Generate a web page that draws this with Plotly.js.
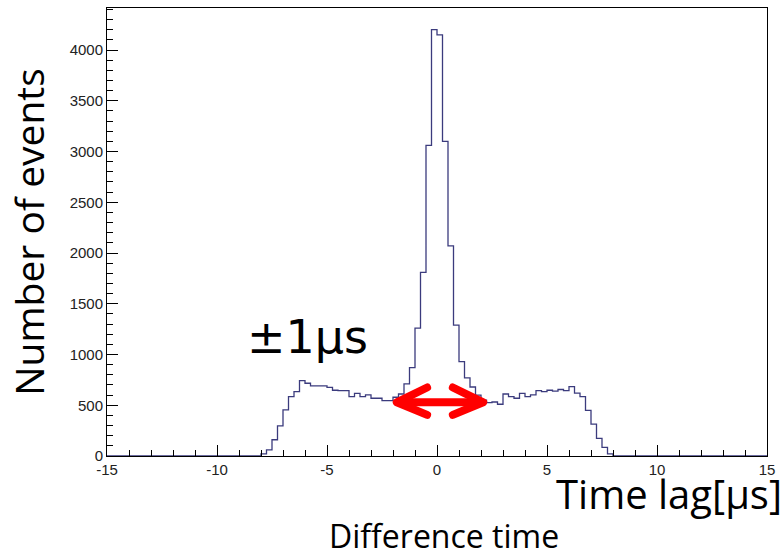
<!DOCTYPE html>
<html><head><meta charset="utf-8">
<script src="https://cdn.plot.ly/plotly-3.0.1.min.js"></script>
<style>body{margin:0;background:#fff}#c{width:782px;height:551px}</style>
</head><body><div id="c"></div>
<script>
// Histogram: 120 bins of 0.25 from -15 to 15
const binStart = -15;
const binWidth = 0.25;
const leadingZeros = 28;   // bins from -15 to -8
const trailingZeros = 28;  // bins from 8 to 15
const countsNeg = [20, 60, 160, 296, 454, 585, 634, 743, 717, 690, 690, 690, 677, 648, 644, 644,
                   585, 618, 585, 602, 569, 569, 545, 545, 579, 611, 710, 870, 1260, 1810, 3060, 4200];
const countsPos = [4150, 3100, 2070, 1290, 930, 770, 680, 600, 550, 526, 532, 510, 611, 585, 569, 618,
                   585, 602, 644, 635, 648, 640, 655, 644, 684, 620, 585, 450, 315, 174, 85, 20];
const xTickVals = [-15, -10, -5, 0, 5, 10, 15];
const yTickVals = [0, 500, 1000, 1500, 2000, 2500, 3000, 3500, 4000];

const counts = [].concat(new Array(leadingZeros).fill(0), countsNeg, countsPos, new Array(trailingZeros).fill(0));
const edges = counts.map((_, i) => binStart + i * binWidth);
edges.push(binStart + counts.length * binWidth);
const ys = counts.concat([counts[counts.length - 1]]);

const trace = {
  type: 'scatter', mode: 'lines', x: edges, y: ys,
  line: {shape: 'hv', color: '#3b3b7d', width: 1.3},
  hoverinfo: 'skip'
};

const red = '#ff0000';
const tickFont = {family: 'Liberation Sans, Arial, sans-serif', size: 15, color: '#222'};
const layout = {
  width: 782, height: 551,
  margin: {l: 107, r: 15, t: 8, b: 95},
  paper_bgcolor: '#fff', plot_bgcolor: '#fff',
  showlegend: false,
  xaxis: {
    range: [-15, 15], tickvals: xTickVals, ticktext: xTickVals.map(String),
    ticks: 'inside', ticklen: 11, tickcolor: '#000', tickwidth: 1,
    minor: {dtick: 1, ticks: 'inside', ticklen: 6, tickcolor: '#000'},
    showline: true, linecolor: '#000', linewidth: 1, mirror: true,
    showgrid: false, zeroline: false, tickfont: tickFont
  },
  yaxis: {
    range: [0, 4414], tickvals: yTickVals, ticktext: yTickVals.map(String),
    ticks: 'inside', ticklen: 11, tickcolor: '#000', tickwidth: 1,
    minor: {dtick: 100, ticks: 'inside', ticklen: 6, tickcolor: '#000'},
    showline: true, linecolor: '#000', linewidth: 1, mirror: true,
    showgrid: false, zeroline: false, tickfont: tickFont
  },
  shapes: [
    {type: 'line', xref: 'x', yref: 'y', x0: -1.75, y0: 529, x1: 2.0, y1: 529, line: {color: red, width: 8}},
    {type: 'path', xref: 'x', yref: 'y', path: 'M -0.45,675 L -1.83,529 L -0.45,405', line: {color: red, width: 8}},
    {type: 'path', xref: 'x', yref: 'y', path: 'M 0.72,675 L 2.1,529 L 0.72,405', line: {color: red, width: 8}}
  ],
  annotations: [
    {text: 'Number of events', xref: 'paper', yref: 'paper', x: -0.12, y: 0.5, xanchor: 'center', yanchor: 'middle',
     textangle: -90, showarrow: false, font: {family: 'Open Sans, sans-serif', size: 39, color: '#000'}},
    {text: 'Time lag[μs]', xref: 'paper', yref: 'paper', x: 1.026, y: -0.017, xanchor: 'right', yanchor: 'top',
     showarrow: false, font: {family: 'Open Sans, sans-serif', size: 40, color: '#000'}},
    {text: 'Difference time', xref: 'paper', yref: 'paper', x: 0.51, y: -0.126, xanchor: 'center', yanchor: 'top',
     showarrow: false, font: {family: 'Open Sans, sans-serif', size: 32, color: '#000'}},
    {text: '±1μs', xref: 'x', yref: 'y', x: -5.9, y: 1170, xanchor: 'center', yanchor: 'middle',
     showarrow: false, font: {family: 'DejaVu Sans, sans-serif', size: 46, color: '#000'}}
  ]
};

Plotly.newPlot('c', [trace], layout, {staticPlot: true}).then(() => {
  document.querySelectorAll('#c .shapelayer path').forEach(p => {
    p.style.strokeLinecap = 'round';
    p.style.strokeLinejoin = 'round';
  });
});
</script>
</body></html>
